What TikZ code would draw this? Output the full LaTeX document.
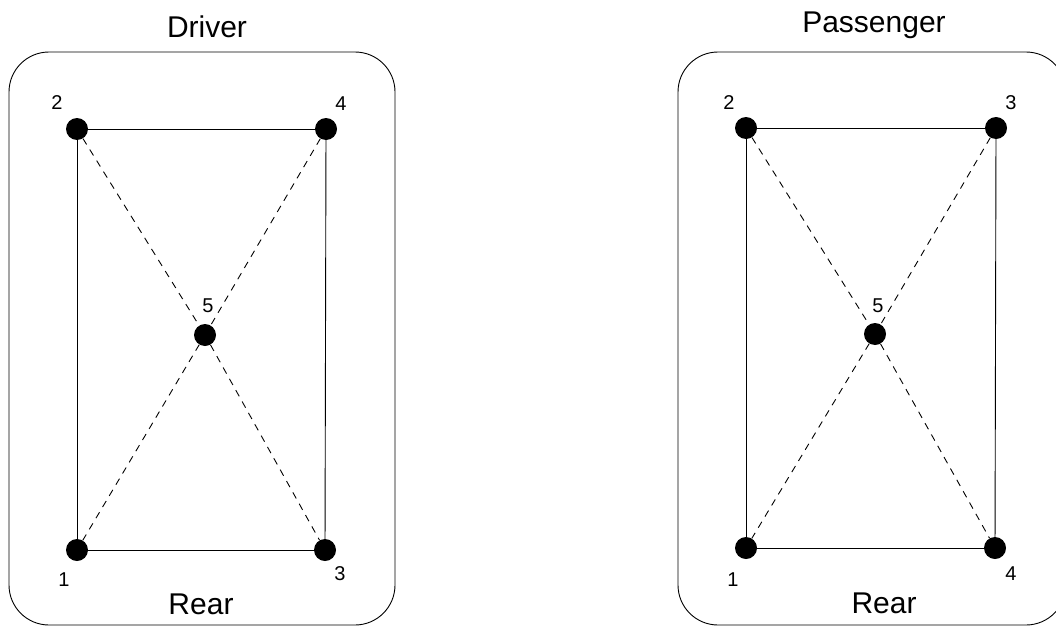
\documentclass[tikz,border=0pt]{standalone}
\usepackage{fontspec}
\setmainfont{Liberation Sans}
\begin{document}
\begin{tikzpicture}[x=1pt,y=-1pt,
  dot/.style={circle,fill=black,inner sep=0pt,minimum size=22pt},
  frame/.style={draw,line width=0.9pt,rounded corners=40pt},
  solidline/.style={line width=0.9pt},
  dashline/.style={line width=0.9pt,dash pattern=on 7pt off 6pt},
  num/.style={font=\fontsize{20}{20}\selectfont,inner sep=0pt},
  title/.style={font=\fontsize{30}{30}\selectfont,inner sep=0pt}]
\useasboundingbox (0,0) rectangle (1056,626);
\clip (0,0) rectangle (1056,626);
% frames
\draw[frame] (9,52) rectangle (395,625);
\draw[frame] (678,52) rectangle (1066,625);
% titles
\node[title] (tD) at (207,27) {Driver};
\node[title] (tP) at (874,25) {Passenger};
\node[title] (rD) at (201,604) {Rear};
\node[title] (rP) at (884,603) {Rear};
% left nodes
\node[dot] (L2) at (77,129) {};
\node[dot] (L4) at (326,129) {};
\node[dot] (L1) at (77,550) {};
\node[dot] (L3) at (325,550) {};
\node[dot] (L5) at (205,335) {};
\node[num] (lL2) at (57,103) {2};
\node[num] (lL4) at (341,104) {4};
\node[num] (lL1) at (64,580) {1};
\node[num] (lL3) at (340,574) {3};
\node[num] (lL5) at (208,306) {5};
\draw[solidline] (L2) -- (L4);
\draw[solidline] (L2) -- (L1);
\draw[solidline] (L4) -- (L3);
\draw[solidline] (L1) -- (L3);
\draw[dashline] (L2) -- (L5) -- (L3);
\draw[dashline] (L4) -- (L5) -- (L1);
% right nodes
\node[dot] (R2) at (746,128) {};
\node[dot] (R3) at (996,128) {};
\node[dot] (R1) at (746,548) {};
\node[dot] (R4) at (995,548) {};
\node[dot] (R5) at (875,334) {};
\node[num] (lR2) at (729,103) {2};
\node[num] (lR3) at (1011,103) {3};
\node[num] (lR1) at (733,580) {1};
\node[num] (lR4) at (1011,574) {4};
\node[num] (lR5) at (878,306) {5};
\draw[solidline] (R2) -- (R3);
\draw[solidline] (R2) -- (R1);
\draw[solidline] (R3) -- (R4);
\draw[solidline] (R1) -- (R4);
\draw[dashline] (R2) -- (R5) -- (R4);
\draw[dashline] (R3) -- (R5) -- (R1);
\end{tikzpicture}
\end{document}
